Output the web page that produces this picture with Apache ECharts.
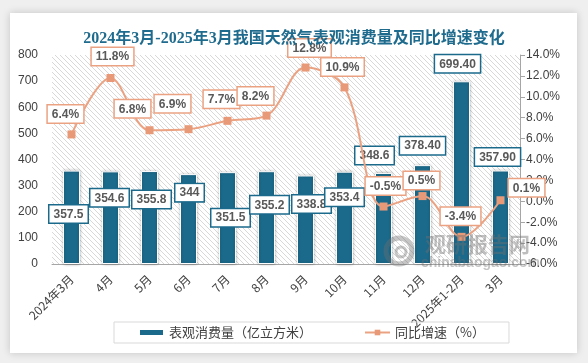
<!DOCTYPE html>
<html><head><meta charset="utf-8">
<script src="https://cdn.jsdelivr.net/npm/echarts@6/dist/echarts.min.js"></script>
<style>html,body{margin:0;padding:0;background:#efefef;}#c{width:588px;height:363px;}</style>
</head><body><div id="c"></div>
<script>
const categories = ['2024年3月','4月','5月','6月','7月','8月','9月','10月','11月','12月','2025年1-2月','3月'];
const consumption = [357.5, 354.6, 355.8, 344, 351.5, 355.2, 338.8, 353.4, 348.6, 378.4, 699.4, 357.9];
const consumptionText = ['357.5','354.6','355.8','344','351.5','355.2','338.8','353.4','348.6','378.40','699.40','357.90'];
const growth = [6.4, 11.8, 6.8, 6.9, 7.7, 8.2, 12.8, 10.9, -0.5, 0.5, -3.4, 0.1];

// label placement (style)
const barLabelOffset = [[-3,57],[-1,40],[2,42],[1,32],[3,59],[3,47],[6,42],[0,39],[-9,-4],[0,-6],[-4,-4],[-3,0]];
const lineLabelOffset = [[-6,-3],[2,-4],[-17,-4],[-16,-8],[-6,-4],[-11,-2],[4,-2],[-2,-3],[2,-3],[-1,2],[-1,-3],[26,5]];

const cv = document.createElement('canvas');
cv.width = 5; cv.height = 5;
const g = cv.getContext('2d');
g.fillStyle = '#ffffff'; g.fillRect(0,0,5,5);
g.strokeStyle = '#d8d8d8'; g.lineWidth = 1;
g.beginPath();
g.moveTo(-1,-1); g.lineTo(6,6);
g.moveTo(-1,4); g.lineTo(1,6);
g.moveTo(4,-1); g.lineTo(6,1);
g.stroke();

const chart = echarts.init(document.getElementById('c'));
const lblFont = {fontFamily:'Liberation Sans, Arial, sans-serif', fontWeight:'bold', fontSize:12, color:'#595959'};
chart.setOption({
  backgroundColor:'#efefef',
  animation:false,
  graphic:[
    {type:'rect', z:-10, shape:{x:10,y:13,width:567,height:340}, style:{fill:'#ffffff', shadowBlur:8, shadowColor:'rgba(0,0,0,0.18)'}},
    {type:'text', z:50, left:425, top:234, style:{text:'观研报告网', fontSize:21, fontWeight:'bold', fontFamily:'Noto Sans CJK SC', fill:'rgba(110,110,110,0.45)'}},
    {type:'text', z:50, left:421, top:256, style:{text:'chinabaogao.com', fontSize:14, fontWeight:'bold', fontFamily:'Liberation Sans, Arial', fill:'rgba(110,110,110,0.4)'}},
    {type:'circle', z:50, shape:{cx:399,cy:251,r:13}, style:{fill:'none', stroke:'rgba(110,110,110,0.4)', lineWidth:5}},
    {type:'circle', z:50, shape:{cx:401,cy:252,r:5}, style:{fill:'none', stroke:'rgba(110,110,110,0.4)', lineWidth:3}}
  ],
  title:{text:'2024年3月-2025年3月我国天然气表观消费量及同比增速变化', left:'center', top:26,
    textStyle:{fontSize:16, fontWeight:'bold', color:'#1f6b8e', fontFamily:'Liberation Serif, Noto Sans CJK SC, serif'}},
  grid:{left:52, right:68, top:55, bottom:99, show:true, borderWidth:0, backgroundColor:{image:cv, repeat:'repeat'}},
  legend:{left:114, top:322, width:361, height:23, padding:[4,24,4,24], itemGap:52, borderColor:'#d9d9d9', borderWidth:1,
    itemWidth:25, itemHeight:7, textStyle:{fontSize:13, color:'#404040', fontFamily:'Noto Sans CJK SC'},
    data:[{name:'表观消费量（亿立方米）', icon:'rect'}, {name:'同比增速（%）'}]},
  xAxis:{type:'category', data:categories, axisTick:{show:false}, axisLine:{lineStyle:{color:'#a6a6a6'}},
    axisLabel:{rotate:45, margin:13, fontSize:12, color:'#404040', interval:0, fontFamily:'Noto Sans CJK SC'}},
  yAxis:[
    {type:'value', min:0, max:800, interval:100, splitLine:{show:false}, axisLine:{show:false}, axisTick:{show:false},
      axisLabel:{fontSize:12, color:'#404040', margin:14, fontFamily:'Liberation Sans, Arial'}},
    {type:'value', min:-6, max:14, interval:2, splitLine:{show:false}, axisLine:{show:true, lineStyle:{color:'#a6a6a6'}},
      axisTick:{show:true, length:5, lineStyle:{color:'#a6a6a6'}},
      axisLabel:{fontSize:12, color:'#404040', margin:6, fontFamily:'Liberation Sans, Arial', formatter:v=>v.toFixed(1)+'%'}}
  ],
  series:[
    {name:'表观消费量（亿立方米）', type:'bar', barWidth:17, yAxisIndex:0,
      itemStyle:{color:'#1b6a8c', borderColor:'#ffffff', borderWidth:1, shadowBlur:3, shadowColor:'rgba(0,0,0,0.3)'},
      data:consumption.map((v,i)=>({value:v, label:{offset:barLabelOffset[i]}})),
      label:{show:true, position:'top', ...lblFont, backgroundColor:'#ffffff', borderColor:'#1b6a8c', borderWidth:1.5,
        padding:[3,4,2,4], formatter:p=>consumptionText[p.dataIndex]}},
    {name:'同比增速（%）', type:'line', yAxisIndex:1, smooth:0.35, symbol:'rect', symbolSize:8,
      lineStyle:{color:'#eba282', width:2}, itemStyle:{color:'#e89a78'},
      data:growth.map((v,i)=>({value:v, label:{offset:lineLabelOffset[i]}})),
      label:{show:true, position:'top', ...lblFont, backgroundColor:'#ffffff', borderColor:'#eba282', borderWidth:1.5,
        padding:[3,4,2,4], formatter:p=>p.value.toFixed(1)+'%'}, z:5}
  ]
});
</script></body></html>
